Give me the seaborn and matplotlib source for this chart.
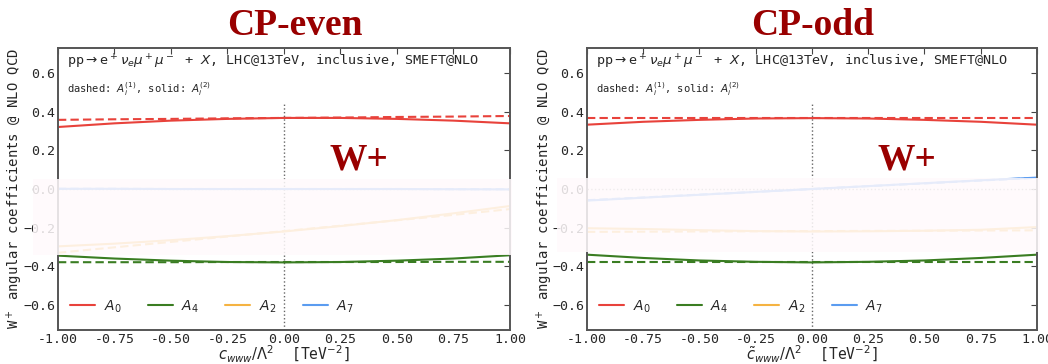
import numpy as np
import pandas as pd
import matplotlib
matplotlib.use("Agg")
import matplotlib.pyplot as plt
import seaborn as sns
from matplotlib.lines import Line2D
from matplotlib.patches import Rectangle

x_vals = [-1.0, -0.75, -0.5, -0.25, 0.0, 0.25, 0.5, 0.75, 1.0]

# CP-even panel (c_www)
even_A0_lin = [0.358, 0.361, 0.363, 0.366, 0.368, 0.370, 0.373, 0.375, 0.378]
even_A0_quad = [0.321, 0.340, 0.354, 0.363, 0.368, 0.368, 0.363, 0.354, 0.340]
even_A4_lin = [-0.379, -0.379, -0.379, -0.378, -0.378, -0.378, -0.378, -0.377, -0.377]
even_A4_quad = [-0.345, -0.360, -0.371, -0.378, -0.380, -0.378, -0.371, -0.360, -0.343]
even_A2_lin = [-0.330, -0.302, -0.274, -0.246, -0.218, -0.190, -0.162, -0.134, -0.104]
even_A2_quad = [-0.297, -0.283, -0.265, -0.244, -0.220, -0.192, -0.161, -0.126, -0.088]
even_A7_lin = [0.001, 0.001, 0.000, 0.000, 0.000, 0.000, 0.000, -0.001, -0.001]
even_A7_quad = [0.001, 0.001, 0.000, 0.000, 0.000, 0.000, 0.000, -0.001, -0.002]

# CP-odd panel (c~_www)
odd_A0_lin = [0.367, 0.367, 0.367, 0.367, 0.367, 0.367, 0.367, 0.367, 0.367]
odd_A0_quad = [0.333, 0.348, 0.358, 0.365, 0.367, 0.365, 0.358, 0.348, 0.333]
odd_A4_lin = [-0.379, -0.379, -0.379, -0.379, -0.379, -0.379, -0.379, -0.379, -0.379]
odd_A4_quad = [-0.340, -0.357, -0.370, -0.377, -0.380, -0.377, -0.370, -0.357, -0.340]
odd_A2_lin = [-0.222, -0.221, -0.220, -0.219, -0.218, -0.217, -0.216, -0.215, -0.214]
odd_A2_quad = [-0.203, -0.207, -0.213, -0.218, -0.220, -0.219, -0.216, -0.211, -0.197]
odd_A7_lin = [-0.058, -0.044, -0.029, -0.015, 0.000, 0.015, 0.029, 0.044, 0.058]
odd_A7_quad = [-0.060, -0.045, -0.030, -0.015, 0.000, 0.015, 0.030, 0.045, 0.059]

coef_names = ["A0", "A4", "A2", "A7"]
coef_labels = ["$A_0$", "$A_4$", "$A_2$", "$A_7$"]
colors = {"A0": "#e8423b", "A4": "#3a7d22", "A2": "#f5b342", "A7": "#5b9cf0"}

panels = [
    ("CP-even", r"$c_{www}/\Lambda^2$  [TeV$^{-2}$]",
     {"A0": (even_A0_lin, even_A0_quad), "A4": (even_A4_lin, even_A4_quad),
      "A2": (even_A2_lin, even_A2_quad), "A7": (even_A7_lin, even_A7_quad)},
     0.20),
    ("CP-odd", r"$\tilde{c}_{www}/\Lambda^2$  [TeV$^{-2}$]",
     {"A0": (odd_A0_lin, odd_A0_quad), "A4": (odd_A4_lin, odd_A4_quad),
      "A2": (odd_A2_lin, odd_A2_quad), "A7": (odd_A7_lin, odd_A7_quad)},
     0.29),
]

sns.set_style("white")
plt.rcParams["font.family"] = ["DejaVu Sans Mono"]
plt.rcParams["mathtext.fontset"] = "dejavusans"

fig = plt.figure(figsize=(10.48, 3.64), dpi=100)
ax_boxes = [[0.0553, 0.0934, 0.4313, 0.7747], [0.5601, 0.0934, 0.4294, 0.7747]]
title_x = [0.281, 0.775]
bands = [(0.0315, 0.2995, 0.457, 0.2088), (0.5315, 0.3077, 0.461, 0.2030)]

for i, (title, xlabel, series, wx) in enumerate(panels):
    ax = fig.add_axes(ax_boxes[i])

    rows = []
    for name in coef_names:
        lin, quad = series[name]
        for xv, yv in zip(x_vals, lin):
            rows.append({"x": xv, "y": yv, "coef": name, "order": "lin"})
        for xv, yv in zip(x_vals, quad):
            rows.append({"x": xv, "y": yv, "coef": name, "order": "quad"})
    df = pd.DataFrame(rows)

    ax.axhline(0, color="#999999", ls=":", lw=1, zorder=1)
    ax.axvline(0, ymin=0, ymax=0.81, color="#666666", ls=":", lw=1, zorder=1)

    sns.lineplot(data=df, x="x", y="y", hue="coef", style="order",
                 palette=colors, dashes={"lin": (4, 2), "quad": ""},
                 lw=1.5, legend=False, ax=ax, zorder=2)

    ax.set_xlim(-1, 1)
    ax.set_ylim(-0.73, 0.73)
    ax.set_xticks([-1, -0.75, -0.5, -0.25, 0, 0.25, 0.5, 0.75, 1])
    ax.set_xticklabels(["-1.00", "-0.75", "-0.50", "-0.25", "0.00",
                        "0.25", "0.50", "0.75", "1.00"])
    ax.set_yticks([-0.6, -0.4, -0.2, 0.0, 0.2, 0.4, 0.6])
    ax.tick_params(direction="in", top=True, right=True, labelsize=9.5,
                   length=4, color="#444444", pad=2)
    for sp in ax.spines.values():
        sp.set_color("#555555")
        sp.set_linewidth(1.4)
    ax.set_xlabel(xlabel, fontsize=10.5)
    ax.xaxis.set_label_coords(0.5, -0.05)
    ax.set_ylabel(r"W$^+$ angular coefficients @ NLO QCD", fontsize=10)
    ax.yaxis.set_label_coords(-0.072, 0.5)

    ax.text(0.02, 0.985, r"pp$\rightarrow$e$^+\nu_e\mu^+\mu^-$ + $X$, LHC@13TeV, inclusive, SMEFT@NLO",
            transform=ax.transAxes, va="top", ha="left", fontsize=9.7)
    ax.text(0.02, 0.885, r"dashed: $A_i^{(1)}$, solid: $A_i^{(2)}$",
            transform=ax.transAxes, va="top", ha="left", fontsize=7.5)

    ax.text(wx, 0.10, "W+", fontsize=27, color="#990000", weight="bold",
            family="Liberation Serif", va="baseline", ha="left")

    handles = [Line2D([], [], color=colors[n], lw=1.5) for n in coef_names]
    ax.legend(handles, coef_labels, loc="lower left", ncol=4, frameon=False,
              fontsize=10, handlelength=1.8, handletextpad=0.6,
              columnspacing=1.9, bbox_to_anchor=(0.0, 0.01))

    fig.text(title_x[i], 0.904, title, fontsize=27, color="#990000",
             weight="bold", family="Liberation Serif", ha="center", va="baseline")

    fig.add_artist(Rectangle(bands[i][:2], bands[i][2], bands[i][3],
                             transform=fig.transFigure, facecolor="#fffafc",
                             edgecolor="none", alpha=0.85, zorder=5))

fig.savefig("out.png", dpi=100)
